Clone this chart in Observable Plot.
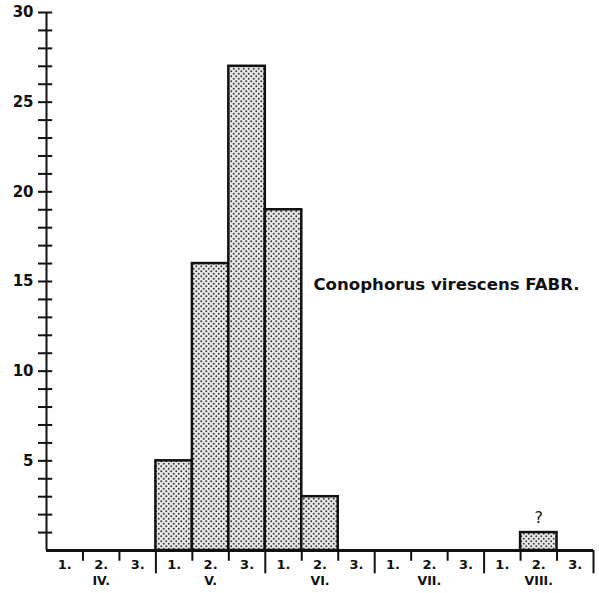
<!DOCTYPE html>
<html>
<head>
<meta charset="utf-8">
<script src="https://cdn.jsdelivr.net/npm/d3@7"></script>
<script src="https://cdn.jsdelivr.net/npm/@observablehq/plot@0.6"></script>
<style>
  html, body { margin: 0; padding: 0; background: #fff; }
</style>
</head>
<body>
<div id="chart"></div>
<script>
// ---- data ----
const months = ["IV.", "V.", "VI.", "VII.", "VIII."];
const decades = ["1.", "2.", "3."];
const counts = [0, 0, 0, 5, 16, 27, 19, 3, 0, 0, 0, 0, 0, 1, 0];
const yTickLabels = [5, 10, 15, 20, 25, 30];
const title = "Conophorus virescens FABR.";
const notes = [{slot: 13, count: 1, text: "?"}];

// ---- derived tables ----
const bars = counts.map((c, i) => ({i, count: c})).filter(d => d.count > 0);
const decadeLabels = counts.map((c, i) => ({i, text: decades[i % 3]}));
const monthLabels = months.map((m, k) => ({k, text: m}));
const boundaries = d3.range(1, counts.length + 1);
const shortTicks = boundaries.filter(b => b % 3 !== 0);
const longTicks = boundaries.filter(b => b % 3 === 0);
const minorY = d3.range(1, 31);

const font = "DejaVu Sans";

const chart = Plot.plot({
  width: 599,
  height: 593,
  marginLeft: 46,
  marginRight: 6,
  marginTop: 12,
  marginBottom: 43,
  x: {domain: [0, counts.length], axis: null},
  y: {domain: [0, 30], axis: null},
  style: {background: "#fff"},
  marks: [
    Plot.rect(bars, {x1: "i", x2: d => d.i + 1, y1: 0, y2: "count",
      fill: "url(#dots)", stroke: "#111", strokeWidth: 2.5}),
    // y axis line and ticks
    Plot.ruleX([0], {y1: 0, y2: 30, stroke: "#111", strokeWidth: 2}),
    Plot.ruleY(minorY, {x1: -0.22, x2: 0.17, stroke: "#111", strokeWidth: 2}),
    Plot.text(yTickLabels, {x: 0, y: d => d, dx: -13, textAnchor: "end",
      fontSize: 15, fontWeight: "bold", fontFamily: font, fill: "#111"}),
    // baseline
    Plot.ruleY([0], {x1: 0, x2: counts.length, stroke: "#111", strokeWidth: 3}),
    Plot.ruleX(shortTicks, {y1: 0, y2: -0.6, stroke: "#111", strokeWidth: 2}),
    Plot.ruleX(longTicks, {y1: 0, y2: -1.3, stroke: "#111", strokeWidth: 2}),
    Plot.text(decadeLabels, {x: d => d.i + 0.5, y: 0, dy: 14, text: "text",
      fontSize: 13, fontWeight: "bold", fontFamily: font, fill: "#111"}),
    Plot.text(monthLabels, {x: d => d.k * 3 + 1.5, y: 0, dy: 30, text: "text",
      fontSize: 12.5, fontWeight: "bold", fontFamily: font, fill: "#111"}),
    // annotations
    Plot.text(notes, {x: d => d.slot + 0.5, y: "count", dy: -15, text: "text",
      fontSize: 16, fontFamily: font, fill: "#111"}),
    Plot.text([title], {x: 7.32, y: 14.8, textAnchor: "start",
      fontSize: 16.6, fontWeight: "bold", fontFamily: font, fill: "#111"})
  ]
});

// stipple pattern
const svg = d3.select(chart);
const defs = svg.insert("defs", ":first-child");
const pat = defs.append("pattern").attr("id", "dots")
  .attr("patternUnits", "userSpaceOnUse").attr("width", 5).attr("height", 5);
pat.append("rect").attr("width", 5).attr("height", 5).attr("fill", "#e8e8e8");
pat.append("circle").attr("cx", 1.25).attr("cy", 1.25).attr("r", 0.95).attr("fill", "#333");
pat.append("circle").attr("cx", 3.75).attr("cy", 3.75).attr("r", 0.95).attr("fill", "#333");

document.getElementById("chart").appendChild(chart);
</script>
</body>
</html>
